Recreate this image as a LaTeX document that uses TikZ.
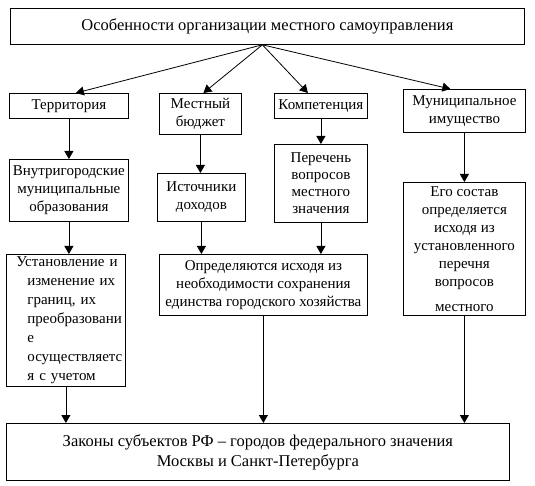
\documentclass[tikz,border=0pt]{standalone}
\usepackage{fontspec}
\setmainfont{Liberation Serif}
\usetikzlibrary{arrows.meta}

\begin{document}
\begin{tikzpicture}[x=1pt, y=-1pt, >={Triangle[length=8pt, width=9pt]}, line width=0.8pt,
    blok/.style={draw, inner sep=0pt, anchor=north west, align=center, font=\fontsize{15}{18}\selectfont},
    bolshoy/.style={blok, font=\fontsize{16.5}{20}\selectfont}]
    % Frame
    \useasboundingbox (0,0) rectangle (535,486);

    % Top box
    \node[bolshoy, minimum width=514pt, minimum height=36pt] (osob) at (10,8) {Особенности организации местного самоуправления};

    % Second row
    \node[blok, minimum width=119pt, minimum height=25pt] (terr) at (9,93) {Территория};
    \node[blok, minimum width=82pt, minimum height=41pt] (byud) at (159,93) {Местный\\бюджет};
    \node[blok, minimum width=93pt, minimum height=25pt] (komp) at (274,93) {Компетенция};
    \node[blok, minimum width=122pt, minimum height=43pt] (imush) at (403,89) {Муниципальное\\имущество};

    % Third row
    \node[blok, minimum width=119pt, minimum height=62pt] (vnutr) at (9,159) {Внутригородские\\муниципальные\\образования};
    \node[blok, minimum width=88pt, minimum height=48pt] (istoch) at (157,173) {Источники\\доходов};
    \node[blok, minimum width=93pt, minimum height=78pt, font=\fontsize{15}{17}\selectfont] (perech) at (274,144) {Перечень\\вопросов\\местного\\значения};
    \node[blok, minimum width=122pt, minimum height=133pt] (sostav) at (403,182) {Его состав\\определяется\\исходя из\\установленного\\перечня\hspace*{31pt}\\вопросов\hspace*{24pt}\\[7pt]местного};

    % Fourth row
    \node[blok, text width=119pt, minimum height=132pt, align=left, font=\fontsize{15}{19}\selectfont] (ustan) at (6,254) {\hspace*{10pt}Установление и\\\hspace*{21pt}изменение их\\\hspace*{21pt}границ, их\\\hspace*{21pt}преобразовани\\\hspace*{21pt}е\\\hspace*{21pt}осуществляетс\\\hspace*{21pt}я с учетом};
    \node[blok, minimum width=208pt, minimum height=61pt] (opred) at (159,254) {Определяются исходя из\\необходимости сохранения\\единства городского хозяйства};

    % Bottom box
    \node[bolshoy, minimum width=503pt, minimum height=57pt] (zakon) at (6,423) {Законы субъектов РФ – городов федерального значения\\Москвы и Санкт-Петербурга};

    % Arrows from the top
    \draw[->] ([xshift=-5pt]osob.south) -- ([xshift=7pt]terr.north);
    \draw[->] ([xshift=-5pt]osob.south) -- ([xshift=3pt]byud.north);
    \draw[->] ([xshift=-5pt]osob.south) -- ([xshift=-13pt]komp.north);
    \draw[->] ([xshift=-5pt]osob.south) -- ([xshift=-14pt]imush.north);

    % Down the columns
    \draw[->] (terr.south) -- (vnutr.north);
    \draw[->] (byud.south) -- (byud.south |- istoch.north);
    \draw[->] (komp.south) -- (perech.north);
    \draw[->] (imush.south) -- (sostav.north);
    \draw[->] (vnutr.south) -- (vnutr.south |- ustan.north);
    \draw[->] (istoch.south) -- (istoch.south |- opred.north);
    \draw[->] (perech.south) -- (perech.south |- opred.north);

    % Into the bottom box
    \draw[->] (ustan.south) -- (ustan.south |- zakon.north);
    \draw[->] (opred.south) -- (opred.south |- zakon.north);
    \draw[->] (sostav.south) -- (sostav.south |- zakon.north);
\end{tikzpicture}
\end{document}
